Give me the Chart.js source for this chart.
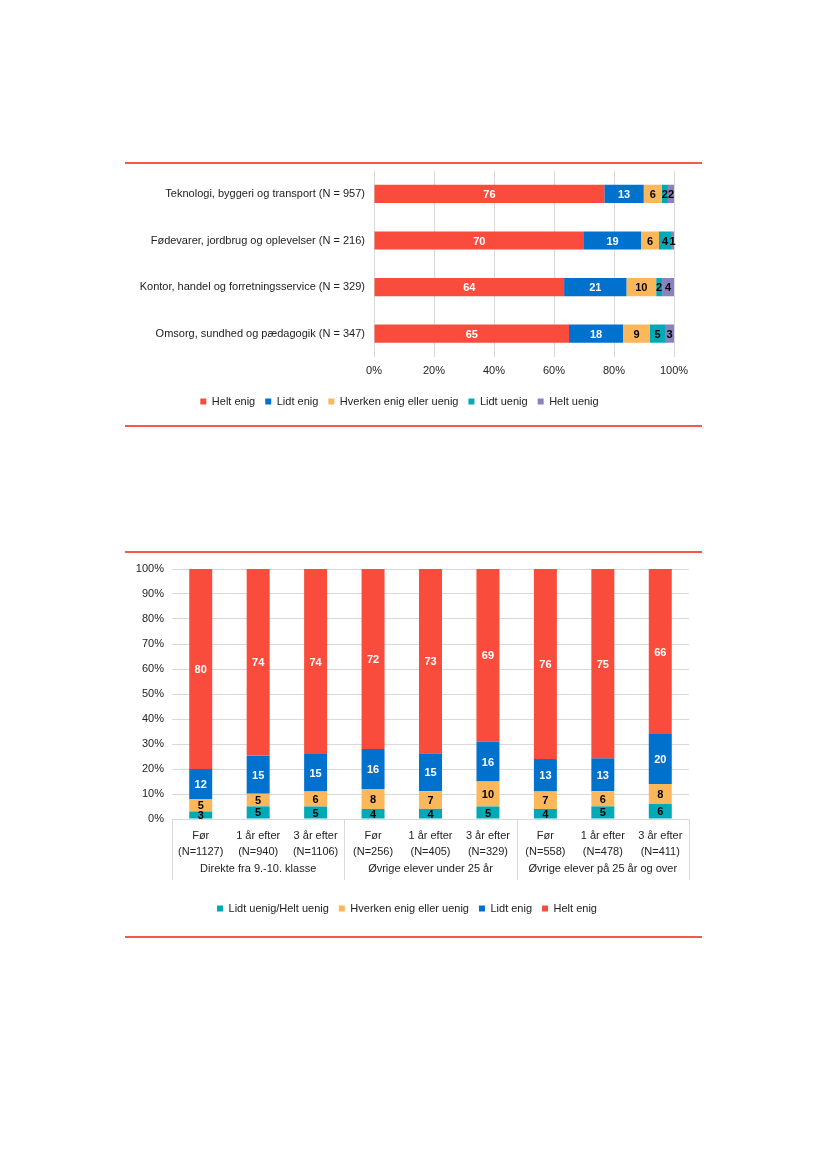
<!DOCTYPE html>
<html>
<head>
<meta charset="utf-8">
<script src="https://cdn.jsdelivr.net/npm/chart.js@4/dist/chart.umd.min.js"></script>
<style>
  body { margin: 0; background: #fff; width: 827px; height: 1169px; position: relative; font-family: "Liberation Sans", Arial, sans-serif; }
  .rule { position: absolute; left: 125px; width: 577px; height: 2px; background: #F4594B; }
  .box { position: absolute; left: 125px; width: 577px; }
</style>
</head>
<body>
<div class="rule" style="top:162px"></div>
<div class="box" style="top:155px;height:269px"><canvas id="sectorChart"></canvas></div>
<div class="rule" style="top:425px"></div>

<div class="rule" style="top:551px"></div>
<div class="box" style="top:554px;height:381px"><canvas id="timeChart"></canvas></div>
<div class="rule" style="top:936px"></div>

<script>
// ---- data: chart 1 (sectors) ----
const sectorLabels = [
    'Teknologi, byggeri og transport (N = 957)',
    'Fødevarer, jordbrug og oplevelser (N = 216)',
    'Kontor, handel og forretningsservice (N = 329)',
    'Omsorg, sundhed og pædagogik (N = 347)'
];
const sHeltEnig = [76, 70, 64, 65];
const sLidtEnig = [13, 19, 21, 18];
const sHverken = [6, 6, 10, 9];
const sLidtUenig = [2, 4, 2, 5];
const sHeltUenig = [2, 1, 4, 3];

// ---- data: chart 2 (before / after) ----
const timeLabels = [
    ['Før', '(N=1127)'], ['1 år efter', '(N=940)'], ['3 år efter', '(N=1106)'],
    ['Før', '(N=256)'], ['1 år efter', '(N=405)'], ['3 år efter', '(N=329)'],
    ['Før', '(N=558)'], ['1 år efter', '(N=478)'], ['3 år efter', '(N=411)']
];
const groupLabels = ['Direkte fra 9.-10. klasse', 'Øvrige elever under 25 år', 'Øvrige elever på 25 år og over'];
const groupSize = 3;
const tUenig = [3, 5, 5, 4, 4, 5, 4, 5, 6];
const tHverken = [5, 5, 6, 8, 7, 10, 7, 6, 8];
const tLidtEnig = [12, 15, 15, 16, 15, 16, 13, 13, 20];
const tHeltEnig = [80, 74, 74, 72, 73, 69, 76, 75, 66];

const RED = '#F94C3C', BLUE = '#0071CC', ORANGE = '#FDB75B', TEAL = '#00A9B6', PURPLE = '#8882BD';
const FONT = '"Liberation Sans", Arial, sans-serif';
const GRID = '#D9D9D9';

// row total, so every bar fills 100 %
function rowTotal(series, i) {
    return series.reduce((s, arr) => s + arr[i], 0);
}
function makeSets(series, names, colors, labelColors) {
    return series.map((arr, k) => ({
        label: names[k],
        raw: arr,
        labelColor: labelColors[k],
        data: arr.map((v, i) => v / rowTotal(series, i) * 100),
        backgroundColor: colors[k],
        borderWidth: 0
    }));
}

// draws the value inside each segment
const valueLabels = {
    id: 'valueLabels',
    afterDatasetsDraw(chart) {
        const ctx = chart.ctx;
        ctx.save();
        ctx.font = 'bold 11px ' + FONT;
        ctx.textAlign = 'center';
        ctx.textBaseline = 'middle';
        chart.data.datasets.forEach((ds, di) => {
            const meta = chart.getDatasetMeta(di);
            if (meta.hidden) return;
            meta.data.forEach((el, i) => {
                const p = el.getCenterPoint();
                ctx.fillStyle = ds.labelColor;
                ctx.fillText(String(ds.raw[i]), p.x, p.y + 1);
            });
        });
        ctx.restore();
    }
};

// group labels and separators under the x axis
const groupAxis = {
    id: 'groupAxis',
    afterDraw(chart) {
        const x = chart.scales.x, area = chart.chartArea, ctx = chart.ctx;
        const step = x.getPixelForValue(1) - x.getPixelForValue(0);
        ctx.save();
        ctx.strokeStyle = GRID;
        ctx.lineWidth = 1;
        for (let g = 0; g <= groupLabels.length; g++) {
            const px = Math.round(x.getPixelForValue(g * groupSize) - step / 2) + 0.5;
            ctx.beginPath();
            ctx.moveTo(px, area.bottom);
            ctx.lineTo(px, area.bottom + 61);
            ctx.stroke();
        }
        ctx.font = '11px ' + FONT;
        ctx.fillStyle = '#222';
        ctx.textAlign = 'center';
        ctx.textBaseline = 'middle';
        groupLabels.forEach((lab, g) => {
            const cx = x.getPixelForValue(g * groupSize + (groupSize - 1) / 2);
            ctx.fillText(lab, cx, area.bottom + 50);
        });
        ctx.restore();
    }
};

const legendOpts = {
    position: 'bottom',
    labels: { boxWidth: 6, boxHeight: 6, padding: 10, color: '#222', font: { family: FONT, size: 11 } }
};

new Chart(document.getElementById('sectorChart'), {
    type: 'bar',
    data: {
        labels: sectorLabels,
        datasets: makeSets(
            [sHeltEnig, sLidtEnig, sHverken, sLidtUenig, sHeltUenig],
            ['Helt enig', 'Lidt enig', 'Hverken enig eller uenig', 'Lidt uenig', 'Helt uenig'],
            [RED, BLUE, ORANGE, TEAL, PURPLE],
            ['#fff', '#fff', '#000', '#000', '#000'])
    },
    options: {
        indexAxis: 'y',
        responsive: true,
        maintainAspectRatio: false,
        animation: false,
        layout: { padding: { top: 5, right: 28, bottom: 7, left: 0 } },
        datasets: { bar: { categoryPercentage: 1, barPercentage: 0.39 } },
        scales: {
            x: {
                stacked: true, min: 0, max: 100,
                ticks: { stepSize: 20, padding: 7, color: '#222', font: { family: FONT, size: 11 }, callback: v => v + '%' },
                grid: { color: GRID, drawTicks: false },
                border: { display: false },
                afterFit: s => { s.height = 29; }
            },
            y: {
                stacked: true,
                ticks: { padding: 9, color: '#222', font: { family: FONT, size: 11 } },
                grid: { display: false, drawTicks: false },
                border: { display: false },
                afterFit: s => { s.width = 249; }
            }
        },
        plugins: { legend: legendOpts, tooltip: { enabled: false } }
    },
    plugins: [valueLabels]
});

new Chart(document.getElementById('timeChart'), {
    type: 'bar',
    data: {
        labels: timeLabels,
        datasets: makeSets(
            [tUenig, tHverken, tLidtEnig, tHeltEnig],
            ['Lidt uenig/Helt uenig', 'Hverken enig eller uenig', 'Lidt enig', 'Helt enig'],
            [TEAL, ORANGE, BLUE, RED],
            ['#000', '#000', '#fff', '#fff'])
    },
    options: {
        responsive: true,
        maintainAspectRatio: false,
        animation: false,
        layout: { padding: { top: 15, right: 13, bottom: 11, left: 0 } },
        datasets: { bar: { categoryPercentage: 1, barPercentage: 0.4 } },
        scales: {
            x: {
                stacked: true,
                ticks: { padding: 1, color: '#222', maxRotation: 0, autoSkip: false, font: { family: FONT, size: 11, lineHeight: 1.45 } },
                grid: { display: false },
                border: { display: true, color: GRID },
                afterFit: s => { s.height = 74; }
            },
            y: {
                stacked: true, min: 0, max: 100,
                ticks: { stepSize: 10, padding: 8, color: '#222', font: { family: FONT, size: 11 }, callback: v => v + '%' },
                grid: { color: GRID, drawTicks: false },
                border: { display: false },
                afterFit: s => { s.width = 47; }
            }
        },
        plugins: { legend: legendOpts, tooltip: { enabled: false } }
    },
    plugins: [valueLabels, groupAxis]
});
</script>
</body>
</html>
